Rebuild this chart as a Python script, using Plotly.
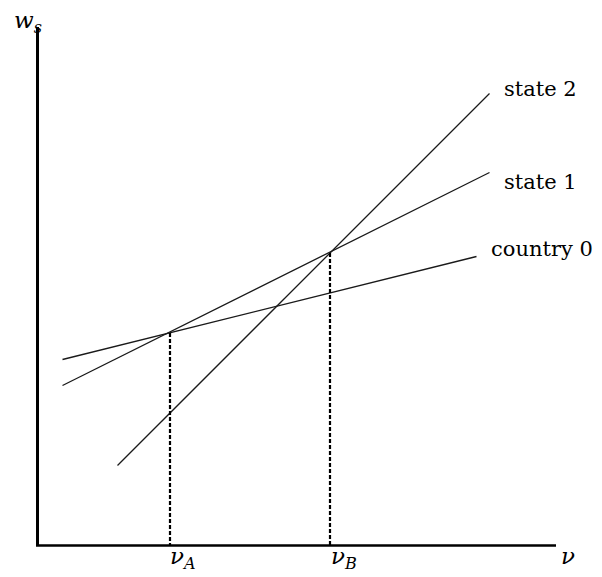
import plotly.graph_objects as go

# ---- data (abstract units: nu on x, w_s on y) ----
series_names = ["country 0", "state 1", "state 2"]
nu_country0 = [25, 439]
w_country0 = [186, 289]
nu_state1 = [25, 452]
w_state1 = [160, 373]
nu_state2 = [80, 452]
w_state2 = [80, 452]

nu_points = [132.5, 292.5]          # nu_A, nu_B
w_points = [212.5, 292.5]
point_labels = ["<i>ν</i><sub><i>A</i></sub>", "<i>ν</i><sub><i>B</i></sub>"]

x_axis_end = 518.5
y_axis_end = 518.5

FONT = "DejaVu Serif"

fig = go.Figure()
for nu, w, name in [(nu_country0, w_country0, series_names[0]),
                    (nu_state1, w_state1, series_names[1]),
                    (nu_state2, w_state2, series_names[2])]:
    fig.add_trace(go.Scatter(x=nu, y=w, mode="lines", name=name,
                             line=dict(color="#1a1a1a", width=1.3),
                             showlegend=False, hoverinfo="skip"))

# dashed drop lines
for nu, w in zip(nu_points, w_points):
    fig.add_trace(go.Scatter(x=[nu, nu], y=[w, 0], mode="lines",
                             line=dict(color="black", width=2.2, dash="4px,2px"),
                             showlegend=False, hoverinfo="skip"))

# axes drawn as shapes
fig.add_shape(type="line", x0=0, y0=0, x1=0, y1=y_axis_end, xref="x", yref="y",
              line=dict(color="black", width=3))
fig.add_shape(type="line", x0=-1.5, y0=0, x1=x_axis_end, y1=0, xref="x", yref="y",
              line=dict(color="black", width=2.5))

ann = []
# series labels
label_pos = {"state 2": (464.5, 457), "state 1": (464.5, 364), "country 0": (451.5, 297)}
for name in series_names:
    x, y = label_pos[name]
    ann.append(dict(x=x, y=y, text=name, xanchor="left", yanchor="middle",
                    showarrow=False, font=dict(family=FONT, size=21, color="black")))
# point labels on nu axis
label_x = [145.5, 306.5]
for lx, t in zip(label_x, point_labels):
    ann.append(dict(x=lx, y=-12, text=t, xanchor="center", yanchor="middle",
                    showarrow=False, font=dict(family=FONT, size=23, color="black")))
# axis titles
ann.append(dict(x=530.5, y=-10, text="<i>ν</i>", xanchor="center", yanchor="middle",
                showarrow=False, font=dict(family=FONT, size=23, color="black")))
ann.append(dict(x=-26, y=524, text="<i>w</i><sub><i>s</i></sub>", xanchor="left",
                yanchor="middle", showarrow=False,
                font=dict(family=FONT, size=23, color="black")))

fig.update_layout(
    width=602, height=569,
    margin=dict(l=0, r=0, t=0, b=0),
    paper_bgcolor="white", plot_bgcolor="white",
    xaxis=dict(range=[-29.5, 572.5], visible=False, fixedrange=True),
    yaxis=dict(range=[-31.5, 537.5], visible=False, fixedrange=True),
    annotations=ann,
)

fig.write_html("out.html")
